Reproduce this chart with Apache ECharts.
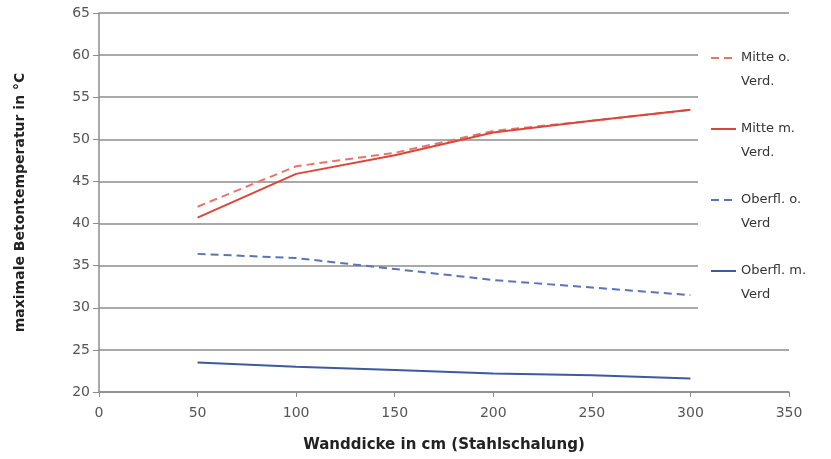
<!DOCTYPE html>
<html>
<head>
<meta charset="utf-8">
<script src="https://cdn.jsdelivr.net/npm/echarts@6/dist/echarts.min.js"></script>
<style>html,body{margin:0;padding:0;background:#fff}#c{width:831px;height:459px}</style>
</head>
<body>
<div id="c"></div>
<script>
const xValues = [50, 100, 150, 200, 250, 300];
const seriesNames = ['Mitte o.\nVerd.', 'Mitte m.\nVerd.', 'Oberfl. o.\nVerd', 'Oberfl. m.\nVerd'];
const mitteOhne = [42.0, 46.8, 48.4, 51.0, 52.2, 53.5];
const mitteMit = [40.7, 45.9, 48.1, 50.8, 52.2, 53.5];
const oberflOhne = [36.4, 35.9, 34.6, 33.3, 32.4, 31.5];
const oberflMit = [23.5, 23.0, 22.6, 22.2, 22.0, 21.6];
const yTicks = {min: 20, max: 65, interval: 5};
const xTicks = {min: 0, max: 350, interval: 50};

const pair = arr => xValues.map((x, i) => [x, arr[i]]);
const font = '"DejaVu Sans", sans-serif';

const chart = echarts.init(document.getElementById('c'));
chart.setOption({
  animation: false,
  backgroundColor: '#fff',
  grid: {left: 99, right: 42, top: 13, bottom: 67},
  xAxis: {
    type: 'value', min: xTicks.min, max: xTicks.max, interval: xTicks.interval,
    name: 'Wanddicke in cm (Stahlschalung)', nameLocation: 'middle', nameGap: 46,
    nameTextStyle: {fontFamily: font, fontWeight: 'bold', fontSize: 15, color: '#222'},
    axisLine: {lineStyle: {color: '#8c8c8c', width: 1.5}},
    axisTick: {show: true, length: 5, lineStyle: {color: '#8c8c8c'}},
    axisLabel: {fontFamily: font, fontSize: 14, color: '#555', margin: 14},
    splitLine: {show: false}
  },
  yAxis: {
    type: 'value', min: yTicks.min, max: yTicks.max, interval: yTicks.interval,
    name: 'maximale Betontemperatur in °C', nameLocation: 'middle', nameGap: 72,
    nameTextStyle: {fontFamily: font, fontWeight: 'bold', fontSize: 14, color: '#222'},
    axisLine: {show: true, lineStyle: {color: '#8c8c8c', width: 1.5}},
    axisTick: {show: true, length: 6, lineStyle: {color: '#8c8c8c'}},
    axisLabel: {fontFamily: font, fontSize: 14, color: '#555', margin: 9},
    splitLine: {lineStyle: {color: '#8c8c8c', width: 1.5}}
  },
  legend: {
    orient: 'vertical', left: 698, top: 17,
    padding: [5, 6, 10, 12],
    backgroundColor: '#fff',
    itemWidth: 25, itemHeight: 10, itemGap: -1,
    itemStyle: {opacity: 0},
    data: seriesNames,
    formatter: name => '\n' + name,
    textStyle: {fontFamily: font, fontSize: 13, color: '#333', lineHeight: 24}
  },
  series: [
    {name: seriesNames[0], type: 'line', data: pair(mitteOhne), showSymbol: false, symbol: 'none',
     lineStyle: {color: '#e8756b', width: 2, type: [8, 5]}, itemStyle: {color: '#e8756b'}},
    {name: seriesNames[1], type: 'line', data: pair(mitteMit), showSymbol: false, symbol: 'none',
     lineStyle: {color: '#d9473a', width: 2}, itemStyle: {color: '#d9473a'}},
    {name: seriesNames[2], type: 'line', data: pair(oberflOhne), showSymbol: false, symbol: 'none',
     lineStyle: {color: '#5a74b4', width: 2, type: [8, 5]}, itemStyle: {color: '#5a74b4'}},
    {name: seriesNames[3], type: 'line', data: pair(oberflMit), showSymbol: false, symbol: 'none',
     lineStyle: {color: '#3d5aa0', width: 2}, itemStyle: {color: '#3d5aa0'}}
  ]
});
</script>
</body>
</html>
